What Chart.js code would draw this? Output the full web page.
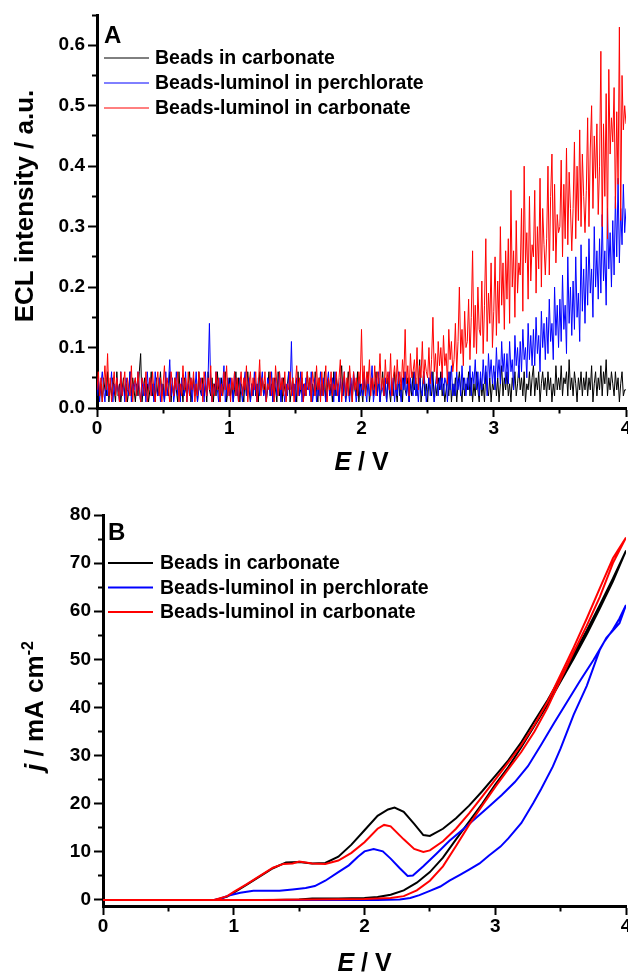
<!DOCTYPE html>
<html>
<head>
<meta charset="utf-8">
<script src="https://cdn.jsdelivr.net/npm/chart.js@4.4.1/dist/chart.umd.min.js"></script>
<style>
  html, body { margin: 0; padding: 0; background: #fff; }
  canvas { display: block; }
</style>
</head>
<body>
<canvas id="chartA" width="628" height="486"></canvas>
<canvas id="chartB" width="628" height="487"></canvas>
<script>
// ---- panel A : ECL intensity (in 0.01 a.u.), one value every 0.01 V from 0 to 4 V ----
const eStepA = 0.01;
const eclBeadsCarb = [
  3,5,2,4,1,5,3,2,6,1, 4,2,5,3,1,6,2,4,1,3, 5,2,4,1,3,6,2,5,3,1, 4,2,6,9,1,3,5,2,4,1,
  3,6,2,4,1,5,2,3,6,2, 4,1,5,3,2,6,1,4,2,5, 3,1,6,2,4,1,5,3,2,4, 6,1,3,5,2,4,1,6,3,2,
  5,2,4,1,6,3,2,5,1,4, 2,6,3,1,5,2,4,6,1,3, 5,2,4,1,3,6,2,5,1,4, 3,1,5,2,6,3,1,4,2,5,
  2,4,1,6,3,5,2,4,1,3, 6,2,4,1,5,3,1,6,2,4, 1,5,3,2,4,6,1,3,5,2, 4,1,6,2,3,5,1,4,2,6,
  3,5,1,4,2,6,3,1,5,2, 4,2,6,1,3,5,2,4,1,6, 2,5,3,1,4,7,2,5,1,3, 6,2,4,1,5,3,2,6,1,4,
  3,1,5,2,4,6,1,3,5,2, 4,6,2,5,1,3,6,2,4,1, 5,3,1,4,2,6,3,1,5,2, 4,1,6,3,2,5,1,4,2,6,
  3,5,2,4,8,1,3,6,2,4, 1,5,3,2,6,1,4,2,5,3, 6,2,4,1,3,5,2,6,1,4, 2,5,1,4,6,3,1,5,2,4,
  3,6,2,5,1,4,2,6,3,1, 5,2,4,1,6,3,2,5,1,4, 3,6,2,5,1,4,7,2,5,3, 6,2,4,1,5,3,6,2,4,7,
  3,5,2,6,1,4,3,6,2,5, 7,2,5,3,6,1,4,6,3,5, 2,6,3,5,1,4,2,7,3,5, 3,7,2,5,4,6,2,8,3,5,
  2,6,4,1,5,3,6,2,5,3, 6,2,5,3,7,1,4,6,2,5, 3,7,2,6,4,8,2,5,3,6, 4,2,6,3,5,1,4,6,2,3,
  3
];
const eclLumPerch = [
  2,5,1,4,6,3,1,5,2,4, 3,6,1,4,2,5,3,1,6,2, 4,1,5,3,2,6,1,4,3,5, 2,6,3,1,5,2,4,1,6,3,
  5,2,4,1,6,3,2,5,1,4, 3,1,6,2,4,8,2,5,1,3, 6,2,4,1,5,3,2,6,1,4, 2,5,1,4,3,6,1,3,5,2,
  4,1,6,2,5,14,3,1,4,2, 6,3,1,5,2,4,7,1,3,5, 2,5,3,1,6,2,4,1,5,3, 1,4,6,2,3,5,1,4,2,6,
  3,1,5,2,4,6,2,3,1,5, 4,2,6,1,3,5,2,4,6,1, 5,3,1,4,2,6,3,11,2,4, 1,5,3,2,6,1,4,2,5,3,
  4,2,6,1,3,5,1,4,2,6, 2,5,3,1,4,6,2,3,5,1, 6,2,4,1,5,3,2,6,1,4, 3,1,5,2,6,4,1,3,5,2,
  4,2,6,3,1,5,2,4,7,1, 3,5,2,6,1,4,3,2,5,1, 4,6,2,3,5,1,4,2,6,3, 1,5,3,6,2,4,1,5,3,2,
  6,2,4,1,5,3,2,6,4,1, 3,5,2,6,3,1,4,6,2,5, 3,6,2,5,4,1,6,3,7,2, 4,2,6,3,5,2,7,3,5,2,
  5,3,7,2,6,4,8,3,6,2, 6,3,8,4,7,2,9,5,8,4, 7,3,10,5,8,4,11,6,9,4, 9,4,11,6,8,3,12,7,10,5,
  11,6,13,8,10,5,14,8,12,7, 13,7,15,9,12,6,16,10,14,8, 15,9,18,11,14,8,20,12,17,10, 18,11,22,13,17,9,25,14,20,12,
  21,13,25,15,19,11,27,16,23,14, 25,17,28,19,23,15,30,20,26,18, 28,19,32,21,26,17,33,23,29,20, 31,22,35,25,38,24,33,27,37,29,
  33
];
const eclLumCarb = [
  3,6,2,5,1,4,7,3,9,2, 5,1,4,6,2,5,3,1,6,2, 4,6,1,5,3,2,7,1,4,5, 2,6,3,1,5,4,2,6,1,3,
  5,2,6,3,1,4,6,2,5,1, 4,7,2,5,3,1,6,4,2,5, 3,6,1,4,2,7,3,5,1,6, 2,5,3,6,1,4,2,6,3,5,
  1,6,4,2,5,3,7,1,4,2, 6,3,5,1,4,2,6,3,7,2, 4,1,5,3,6,2,5,1,4,6, 2,5,3,7,1,4,6,2,5,3,
  6,1,4,8,2,5,3,6,1,4, 3,6,2,5,1,7,4,2,6,3, 5,2,6,1,4,3,6,2,5,1, 4,7,2,5,3,6,1,4,2,6,
  3,5,1,6,4,2,7,3,5,1, 6,2,4,7,1,5,3,6,2,4, 3,6,2,5,8,1,4,6,2,5, 2,7,4,1,6,3,5,2,6,4,
  13,3,7,2,6,4,8,2,5,3, 7,2,6,4,9,3,5,2,8,4, 6,3,9,2,5,7,3,8,4,6, 3,8,5,13,4,7,2,9,5,6,
  8,4,10,3,7,5,11,4,8,6, 5,10,4,8,15,6,9,4,11,7, 10,5,12,7,9,4,13,8,11,6, 8,14,6,11,20,9,13,7,16,10,
  11,18,8,15,26,10,17,9,20,13, 12,21,9,17,28,11,19,14,24,10, 16,25,12,21,14,30,17,24,13,26, 18,28,14,36,20,26,15,31,19,24,
  22,33,16,40,24,29,18,35,21,27, 25,36,19,30,23,38,20,33,27,22, 28,40,22,35,42,26,37,24,32,29, 30,41,25,37,28,43,27,39,33,26,
  33,44,28,40,31,46,30,42,35,29, 36,48,30,43,50,33,45,38,47,32, 40,59,30,47,35,52,28,56,42,48, 44,53,33,49,37,63,31,55,46,50,
  47
];

// ---- panel B : cyclic voltammograms, forward scan then return scan ----
const cvBeadsCarbE = [0,0.86,0.95,1.0,1.1,1.2,1.3,1.4,1.5,1.6,1.7,1.8,1.9,2.0,2.1,2.18,2.23,2.3,2.38,2.45,2.5,2.6,2.7,2.8,2.9,3.0,3.1,3.2,3.3,3.4,3.5,3.6,3.7,3.8,3.9,4.0,
  3.9,3.8,3.7,3.6,3.5,3.4,3.3,3.2,3.1,3.0,2.9,2.8,2.7,2.6,2.5,2.4,2.3,2.2,2.1,2.0,1.8,1.6,1.5,1.3,0];
const cvBeadsCarbJ = [0,0,0.7,1.5,3.2,4.9,6.6,7.8,7.9,7.6,7.7,9.0,11.5,14.5,17.5,18.8,19.2,18.3,15.8,13.5,13.3,14.8,17.0,19.6,22.6,25.8,29.0,32.8,37.2,41.5,46.3,51.0,56.0,61.3,66.8,72.6,
  66.2,60.6,55.2,50.2,45.4,40.6,36.2,31.8,27.6,24.0,20.0,16.3,12.6,8.8,5.8,3.6,2.0,1.1,0.6,0.4,0.3,0.3,0.1,0,0];

const cvLumPerchE = [0,0.85,0.9,0.97,1.05,1.15,1.25,1.35,1.45,1.55,1.62,1.7,1.8,1.88,1.95,2.0,2.07,2.14,2.2,2.27,2.33,2.37,2.45,2.55,2.65,2.75,2.85,2.95,3.05,3.15,3.25,3.35,3.45,3.55,3.65,3.75,3.83,3.9,3.95,4.0,
  3.95,3.9,3.85,3.8,3.7,3.6,3.5,3.44,3.35,3.29,3.2,3.1,3.04,2.95,2.88,2.8,2.73,2.65,2.58,2.5,2.42,2.35,2.27,2.1,0];
const cvLumPerchJ = [0,0,0.3,1.0,1.5,1.9,1.9,1.9,2.2,2.5,2.9,4.0,5.8,7.2,9.0,10.1,10.6,10.1,8.6,6.6,5.0,5.1,7.0,9.6,12.3,14.6,17.0,19.4,21.8,24.5,27.8,32.2,36.8,41.2,45.6,49.8,53.5,56.2,58.5,61.3,
  57.5,56.0,54.5,52.0,44.5,38.5,31.5,27.7,23.0,20.1,16.0,12.8,11.1,9.2,7.6,6.3,5.2,4.0,2.8,1.9,1.0,0.4,0.1,0,0];

const cvLumCarbE = [0,0.85,0.95,1.0,1.1,1.2,1.3,1.38,1.45,1.5,1.6,1.7,1.8,1.9,2.0,2.1,2.15,2.2,2.3,2.38,2.45,2.5,2.6,2.7,2.8,2.9,3.0,3.1,3.2,3.3,3.4,3.5,3.6,3.7,3.8,3.9,4.0,
  3.9,3.8,3.7,3.6,3.5,3.4,3.3,3.2,3.1,3.0,2.9,2.8,2.7,2.6,2.5,2.4,2.3,2.2,2.0,1.6,1.2,0];
const cvLumCarbJ = [0,0,0.8,1.7,3.3,5.0,6.7,7.5,7.6,8.0,7.6,7.5,8.2,9.8,12.0,14.8,15.6,15.3,12.6,10.6,10.0,10.3,12.2,14.8,18.0,21.5,25.0,28.6,32.2,36.4,41.2,46.8,52.5,58.5,64.8,71.0,75.3,
  70.0,63.0,57.0,51.5,45.8,40.0,35.0,30.8,27.2,23.5,19.6,15.6,11.2,7.0,4.0,2.0,0.8,0.4,0.2,0.1,0,0];

const seriesLabels = ['Beads in carbonate', 'Beads-luminol in perchlorate', 'Beads-luminol in carbonate'];
const seriesColors = ['#000000', '#0000ff', '#ff0000'];

// ---- ticks (empty label = minor tick) ----
const xTicks = [0, 0.5, 1, 1.5, 2, 2.5, 3, 3.5, 4];
const xTickLabels = ['0', '', '1', '', '2', '', '3', '', '4'];
const yTicksA = [0, 0.05, 0.1, 0.15, 0.2, 0.25, 0.3, 0.35, 0.4, 0.45, 0.5, 0.55, 0.6, 0.65];
const yTickLabelsA = ['0.0', '', '0.1', '', '0.2', '', '0.3', '', '0.4', '', '0.5', '', '0.6', ''];
const yTicksB = [0, 5, 10, 15, 20, 25, 30, 35, 40, 45, 50, 55, 60, 65, 70, 75, 80];
const yTickLabelsB = ['0', '', '10', '', '20', '', '30', '', '40', '', '50', '', '60', '', '70', '', '80'];

const FONT = "'Liberation Sans', Arial, sans-serif";

// mixed-style text (italic symbol, superscript) centred on cx, baseline by
function drawRich(ctx, parts, cx, by, rot, size){
  const fontOf = p => (p.italic ? 'italic ' : '') + 'bold ' + (p.sup ? Math.round(size * 0.62) : size) + 'px ' + FONT;
  let total = 0;
  parts.forEach(p => { ctx.font = fontOf(p); p.w = ctx.measureText(p.t).width; total += p.w; });
  ctx.save();
  ctx.translate(cx, by);
  ctx.rotate(rot);
  ctx.textAlign = 'left';
  ctx.textBaseline = 'alphabetic';
  let x = -total / 2;
  parts.forEach(p => { ctx.font = fontOf(p); ctx.fillText(p.t, x, p.sup ? -size * 0.4 : 0); x += p.w; });
  ctx.restore();
}

// panel letter, in-plot legend and axis titles
const decor = {
  id: 'decor',
  afterDraw(chart, args, o){
    const ctx = chart.ctx;
    const area = chart.chartArea;
    ctx.save();
    ctx.fillStyle = '#000';
    ctx.font = 'bold ' + o.letterSize + 'px ' + FONT;
    ctx.textAlign = 'left';
    ctx.textBaseline = 'alphabetic';
    ctx.fillText(o.letter, o.letterX, o.letterY);

    chart.data.datasets.forEach((ds, i) => {
      const y = o.legendY + i * o.legendGap;
      ctx.strokeStyle = ds.borderColor;
      ctx.lineWidth = ds.borderWidth;
      ctx.beginPath();
      ctx.moveTo(o.legendX, y);
      ctx.lineTo(o.legendX + o.legendLen, y);
      ctx.stroke();
      ctx.font = 'bold ' + o.legendSize + 'px ' + FONT;
      ctx.textBaseline = 'middle';
      ctx.fillText(ds.label, o.legendX + o.legendLen + o.legendTextGap, y + 1);
    });

    drawRich(ctx, o.xTitle, (area.left + area.right) / 2, o.xTitleY, 0, o.xTitleSize);
    drawRich(ctx, o.yTitle, o.yTitleX, o.yTitleY, -Math.PI / 2, o.yTitleSize);
    ctx.restore();
  }
};

function axisOpts(pos, min, max, ticks, labels, size){
  return {
    type: 'linear', position: pos, min: min, max: max,
    border: { display: true, color: '#000', width: 3 },
    grid: {
      drawOnChartArea: false, drawTicks: true, tickLength: 9, tickWidth: 2, tickColor: '#000',
      tickBorderDash: c => {
        if (c.type !== 'tick' || labels[c.index] !== '') return [];
        return pos === 'left' ? [0, 4, 20, 100] : [3.5, 100];
      }
    },
    ticks: {
      autoSkip: false, maxRotation: 0, minRotation: 0, padding: pos === 'left' ? 3 : 0, color: '#000',
      font: { family: FONT, size: 19, weight: 'bold' },
      callback: (v, i) => labels[i]
    },
    afterBuildTicks: s => { s.ticks = ticks.map(v => ({ value: v })); },
    afterFit: s => {
      if (pos === 'left') s.width = size; else s.height = size;
      s.paddingLeft = 0; s.paddingRight = 0; s.paddingTop = 0; s.paddingBottom = 0;
    }
  };
}

// ---- panel A ----
const eclSeries = [eclBeadsCarb, eclLumPerch, eclLumCarb];
new Chart(document.getElementById('chartA'), {
  type: 'line',
  data: {
    datasets: eclSeries.map((arr, k) => ({
      label: seriesLabels[k],
      data: arr.map((v, i) => ({ x: i * eStepA, y: v / 100 })),
      borderColor: seriesColors[k], borderWidth: 1, pointRadius: 0, tension: 0, order: 2 - k
    }))
  },
  options: {
    responsive: false, animation: false, devicePixelRatio: 1,
    layout: { padding: { top: 15, right: 2, left: 0, bottom: 0 } },
    scales: {
      x: axisOpts('bottom', 0, 4, xTicks, xTickLabels, 78),
      y: axisOpts('left', 0, 0.65, yTicksA, yTickLabelsA, 97)
    },
    plugins: {
      legend: { display: false }, tooltip: { enabled: false },
      decor: {
        letter: 'A', letterX: 104, letterY: 43, letterSize: 24,
        legendX: 104, legendLen: 45, legendTextGap: 6, legendY: 58, legendGap: 25, legendSize: 19.5,
        xTitle: [{ t: 'E', italic: true }, { t: ' / V' }], xTitleY: 470, xTitleSize: 25,
        yTitle: [{ t: 'ECL intensity / a.u.' }], yTitleX: 33, yTitleY: 206, yTitleSize: 26
      }
    }
  },
  plugins: [decor]
});

// ---- panel B ----
const cvE = [cvBeadsCarbE, cvLumPerchE, cvLumCarbE];
const cvJ = [cvBeadsCarbJ, cvLumPerchJ, cvLumCarbJ];
new Chart(document.getElementById('chartB'), {
  type: 'line',
  data: {
    datasets: cvE.map((es, k) => ({
      label: seriesLabels[k],
      data: es.map((e, i) => ({ x: e, y: cvJ[k][i] })),
      borderColor: seriesColors[k], borderWidth: 2, pointRadius: 0, tension: 0, order: 2 - k
    }))
  },
  options: {
    responsive: false, animation: false, devicePixelRatio: 1,
    layout: { padding: { top: 29, right: 2, left: 0, bottom: 0 } },
    scales: {
      x: axisOpts('bottom', 0, 4, xTicks, xTickLabels, 67),
      y: axisOpts('left', -1.25, 80, yTicksB, yTickLabelsB, 103)
    },
    plugins: {
      legend: { display: false }, tooltip: { enabled: false },
      decor: {
        letter: 'B', letterX: 108, letterY: 54, letterSize: 24,
        legendX: 108, legendLen: 45, legendTextGap: 7, legendY: 77, legendGap: 24.5, legendSize: 19.5,
        xTitle: [{ t: 'E', italic: true }, { t: ' / V' }], xTitleY: 485, xTitleSize: 25,
        yTitle: [{ t: 'j', italic: true }, { t: ' / mA cm' }, { t: '-2', sup: true }], yTitleX: 43, yTitleY: 220, yTitleSize: 26
      }
    }
  },
  plugins: [decor]
});
</script>
</body>
</html>
